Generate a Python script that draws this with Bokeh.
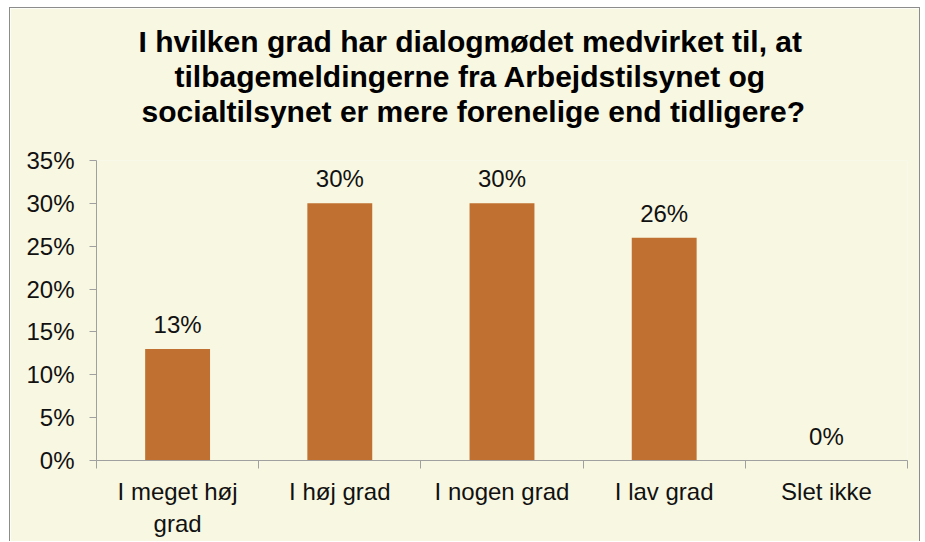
from bokeh.plotting import figure
from bokeh.models import (Range1d, FixedTicker, LinearAxis, NumeralTickFormatter,
                          Title, ColumnDataSource, LabelSet)
from bokeh.core.properties import value
from bokeh.embed import file_html
from bokeh.resources import INLINE

categories = ["I meget høj\ngrad", "I høj grad", "I nogen grad", "I lav grad", "Slet ikke"]
values = [0.13, 0.30, 0.30, 0.26, 0.0]
value_labels = ["13%", "30%", "30%", "26%", "0%"]
y_ticks = [0.0, 0.05, 0.10, 0.15, 0.20, 0.25, 0.30, 0.35]
title_lines = [
    "I hvilken grad har dialogmødet medvirket til, at",
    "tilbagemeldingerne fra Arbejdstilsynet og",
    "socialtilsynet er mere forenelige end tidligere?",
]
title_offsets = [42, 78, 45]

BG = "#F8F7E1"
BAR = "#C07030"
AX = "#A0A0A0"
FONT = "Liberation Sans"
TXT = "#111111"

xpos = list(range(1, len(categories) + 1))

p = figure(width=911, height=534, x_range=Range1d(0.5, len(categories) + 0.5),
           y_range=Range1d(0, 0.35), output_backend="svg", toolbar_location=None,
           min_border_left=86, min_border_right=14, min_border_top=152,
           min_border_bottom=82)
p.styles = {"margin-left": "9px", "margin-top": "7px",
            "border-left": "1px solid #8c8c8c", "border-top": "1px solid #8c8c8c",
            "border-right": "1px solid #8c8c8c"}
p.background_fill_color = BG
p.border_fill_color = BG
p.outline_line_color = None
p.grid.visible = False

src = ColumnDataSource(dict(x=xpos, top=values, lab=value_labels))
p.vbar(x="x", top="top", width=0.4, bottom=0, source=src, fill_color=BAR, line_color=None)
p.add_layout(LabelSet(x="x", y="top", text="lab", source=src, text_align="center",
                      text_baseline="alphabetic", y_offset=16, text_font=value(FONT),
                      text_font_size="24px", text_color=TXT))

# y axis
ya = p.yaxis[0]
ya.ticker = FixedTicker(ticks=y_ticks)
ya.formatter = NumeralTickFormatter(format="0%")
ya.axis_line_color = AX
ya.major_tick_line_color = AX
ya.major_tick_out = 7
ya.major_tick_in = 0
ya.minor_tick_line_color = None
ya.major_label_text_font = FONT
ya.major_label_text_font_size = "24px"
ya.major_label_text_color = TXT
ya.major_label_standoff = 15

# x axis: boundary ticks
xa = p.xaxis[0]
bounds = [i + 0.5 for i in range(0, len(categories) + 1)]
xa.ticker = FixedTicker(ticks=bounds)
xa.major_label_overrides = {b: "" for b in bounds}
xa.major_label_text_font_size = "0px"
xa.axis_line_color = AX
xa.major_tick_line_color = AX
xa.major_tick_out = 8
xa.major_tick_in = 0
xa.minor_tick_line_color = None
xa.major_label_standoff = 0

# x axis: category labels
xl = LinearAxis(ticker=FixedTicker(ticks=xpos),
                major_label_overrides={x: c for x, c in zip(xpos, categories)})
xl.axis_line_color = None
xl.major_tick_line_color = None
xl.minor_tick_line_color = None
xl.major_label_text_font = FONT
xl.major_label_text_font_size = "24px"
xl.major_label_text_color = TXT
xl.major_label_standoff = 3
p.add_layout(xl, "below")

# blank spacer between title and plot area
p.add_layout(Title(text=" ", text_font=FONT, text_font_size="28px", standoff=0), "above")

for line, off in reversed(list(zip(title_lines, title_offsets))):
    p.add_layout(Title(text=line, align="left", offset=off, text_font=FONT,
                       text_font_size="30px", text_font_style="bold",
                       text_color="#000000", standoff=0), "above")

open("out.html", "w").write(file_html(p, INLINE))
